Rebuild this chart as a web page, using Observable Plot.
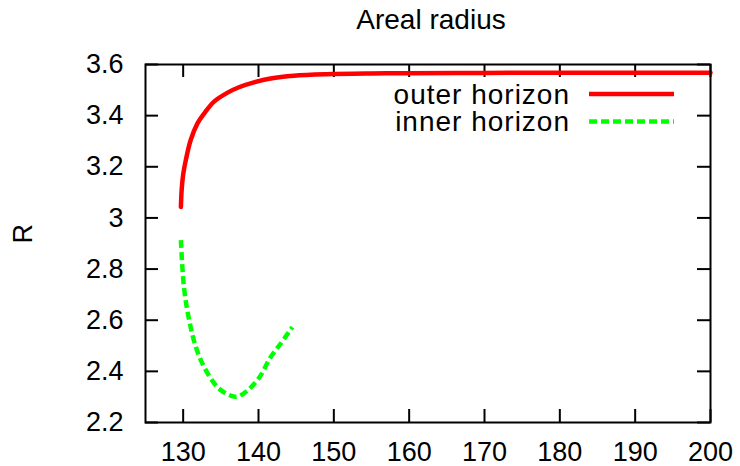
<!DOCTYPE html>
<html>
<head>
<meta charset="utf-8">
<script src="https://cdn.jsdelivr.net/npm/d3@7"></script>
<script src="https://cdn.jsdelivr.net/npm/@observablehq/plot@0.6"></script>
<style>
  html, body { margin: 0; padding: 0; background: #fff; }
  #chart { width: 740px; height: 466px; }
</style>
</head>
<body>
<div id="chart"></div>
<script>
// Horizon areal radius R against time t
const outerT = [129.7, 129.8, 130.0, 130.35, 131.0, 131.9, 132.8, 134.1, 135.9, 137.4, 139.4, 141.6, 144.7, 149, 155, 160, 170, 180, 190, 200];
const outerR = [3.043, 3.11, 3.17, 3.226, 3.305, 3.37, 3.409, 3.455, 3.49, 3.511, 3.53, 3.545, 3.556, 3.562, 3.565, 3.566, 3.567, 3.568, 3.568, 3.568];

const innerT = [129.7, 130.1, 130.8, 131.7, 132.8, 134.6, 136.3, 137.2, 138.5, 140.1, 141.6, 142.9, 144.5];
const innerR = [2.913, 2.73, 2.60, 2.494, 2.416, 2.337, 2.305, 2.301, 2.324, 2.376, 2.455, 2.507, 2.573];

const xTicks = [130, 140, 150, 160, 170, 180, 190, 200];
const yTicks = [2.2, 2.4, 2.6, 2.8, 3, 3.2, 3.4, 3.6];

const seriesNames = ["outer horizon", "inner horizon"];
const seriesColors = ["#ff0000", "#00ff00"];
const titleText = "Areal radius";
const yLabel = "R";

const outer = outerT.map((t, i) => ({t, R: outerR[i]}));
const inner = innerT.map((t, i) => ({t, R: innerR[i]}));

const W = 740, H = 466;
const mL = 145, mR = 30, mT = 64, mB = 44;
const innerW = W - mL - mR, innerH = H - mT - mB;
const tickLen = 13;
const font = "'Liberation Sans', Arial, Helvetica, sans-serif";
const fs = 27;
const fsKey = 28;

const plot = Plot.plot({
  width: W,
  height: H,
  marginLeft: mL,
  marginRight: mR,
  marginTop: mT,
  marginBottom: mB,
  style: {fontFamily: font, fontSize: fs + "px", color: "#000", background: "#fff"},
  x: {domain: [125, 200], ticks: xTicks, tickSize: 0, tickPadding: 19, tickFormat: d => String(d), label: null},
  y: {domain: [2.2, 3.6], ticks: yTicks, tickSize: 0, tickPadding: 22, tickFormat: d => String(d), label: null},
  marks: [
    // inward ticks on all four sides
    Plot.ruleX(xTicks, {x: d => d, insetTop: innerH - tickLen, stroke: "#000", strokeWidth: 2}),
    Plot.ruleX(xTicks, {x: d => d, insetBottom: innerH - tickLen, stroke: "#000", strokeWidth: 2}),
    Plot.ruleY(yTicks, {y: d => d, insetRight: innerW - tickLen, stroke: "#000", strokeWidth: 2}),
    Plot.ruleY(yTicks, {y: d => d, insetLeft: innerW - tickLen, stroke: "#000", strokeWidth: 2}),
    Plot.line(outer, {x: "t", y: "R", stroke: seriesColors[0], strokeWidth: 4.5, curve: "catmull-rom"}),
    Plot.line(inner, {x: "t", y: "R", stroke: seriesColors[1], strokeWidth: 4.5, strokeDasharray: "8,4", strokeLinecap: "butt", curve: "catmull-rom"}),
    Plot.frame({stroke: "#000", strokeWidth: 2}),
    Plot.text([titleText], {frameAnchor: "top", lineAnchor: "middle", dy: -44, dx: 3, fontSize: fsKey, fill: "#000", style: "letter-spacing:0.7px"}),
    Plot.text([yLabel], {frameAnchor: "left", dx: -122, rotate: -90, fontSize: fs, fill: "#000"})
  ]
});

document.getElementById("chart").appendChild(plot);

// Key in the upper right of the frame
const svg = d3.select(plot);
const key = svg.append("g").attr("font-family", font).attr("font-size", fsKey).style("letter-spacing", "1px");
const textRight = W - mR - 140;
const lineX1 = W - mR - 121, lineX2 = W - mR - 36;
seriesNames.forEach((name, i) => {
  const cy = mT + 30 + i * 27.5;
  key.append("text")
    .attr("x", textRight).attr("y", cy)
    .attr("text-anchor", "end").attr("dy", "0.35em")
    .attr("fill", "#000").text(name);
  key.append("line")
    .attr("x1", lineX1).attr("x2", lineX2).attr("y1", cy).attr("y2", cy)
    .attr("stroke", seriesColors[i])
    .attr("stroke-width", 4.5)
    .attr("stroke-dasharray", i === 0 ? null : "8,4");
});
</script>
</body>
</html>
